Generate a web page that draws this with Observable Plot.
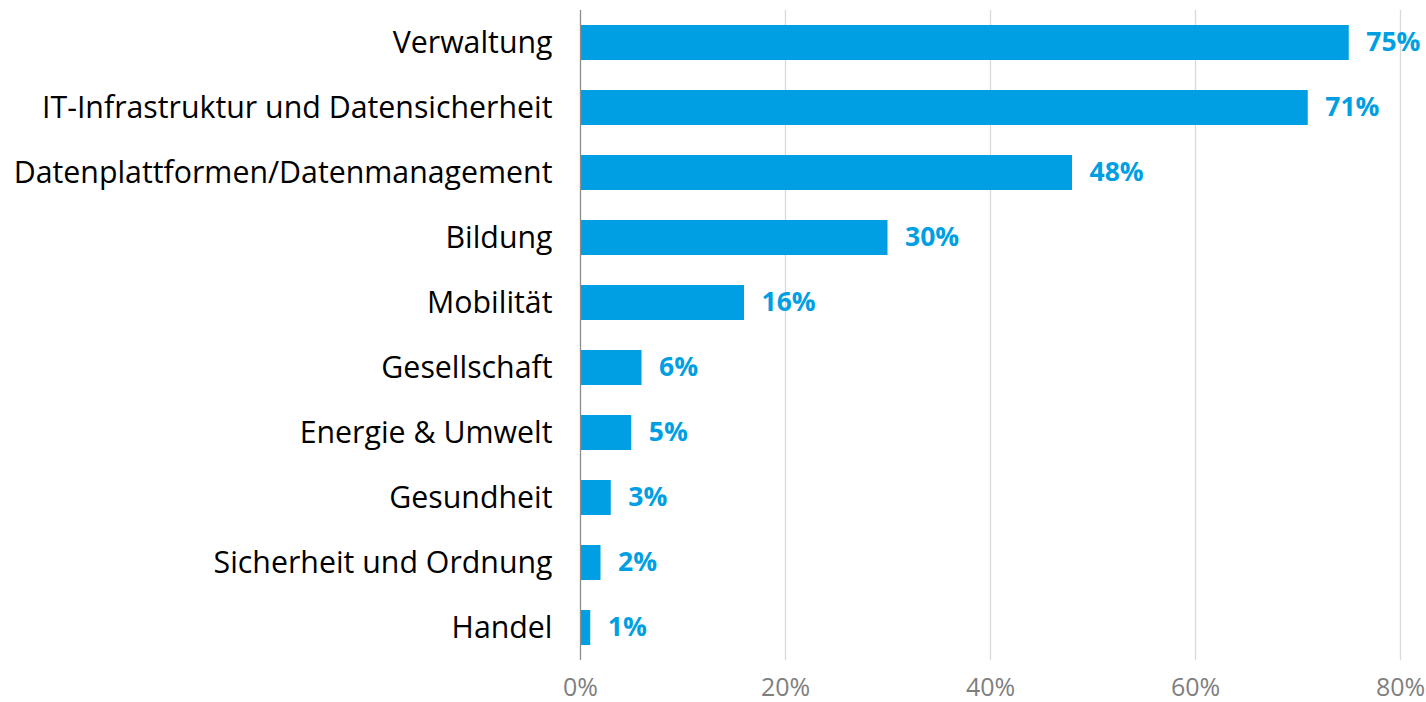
<!DOCTYPE html>
<html>
<head>
<meta charset="utf-8">
<script src="https://cdn.jsdelivr.net/npm/d3@7"></script>
<script src="https://cdn.jsdelivr.net/npm/@observablehq/plot@0.6"></script>
<style>
  html, body { margin: 0; padding: 0; background: #fff; }
  #chart svg { display: block; }
</style>
</head>
<body>
<div id="chart"></div>
<script>
const categories = ["Verwaltung", "IT-Infrastruktur und Datensicherheit", "Datenplattformen/Datenmanagement", "Bildung", "Mobilität", "Gesellschaft", "Energie & Umwelt", "Gesundheit", "Sicherheit und Ordnung", "Handel"];
const values = [75, 71, 48, 30, 16, 6, 5, 3, 2, 1];
const xTicks = [0, 20, 40, 60, 80];

const data = categories.map((c, i) => ({category: c, value: values[i]}));
const blue = "#009FE3";
const font = "'Open Sans', sans-serif";

const chart = Plot.plot({
  width: 1426,
  height: 702,
  marginLeft: 580,
  marginRight: 26,
  marginTop: 10,
  marginBottom: 42,
  style: {fontFamily: font, background: "#fff"},
  x: {domain: [0, 80], ticks: xTicks, tickFormat: d => d + "%", label: null},
  y: {domain: categories, paddingInner: 0.46, paddingOuter: 0.23, label: null},
  marks: [
    Plot.gridX(xTicks.filter(d => d > 0), {stroke: "#d9d9d9", strokeOpacity: 1, strokeWidth: 1.3}),
    Plot.barX(data, {x: "value", y: "category", fill: blue}),
    Plot.ruleX([0], {stroke: "#8c8c8c", strokeWidth: 1.3}),
    Plot.text(data, {x: "value", y: "category", text: d => d.value + "%", textAnchor: "start", dx: 17, fill: blue, fontSize: 26.5, fontWeight: "bold"}),
    Plot.axisX({ticks: xTicks, tickFormat: d => d + "%", tickSize: 0, tickPadding: 18, fontSize: 25, color: "#7f7f7f", label: null}),
    Plot.axisY({tickSize: 0, tickPadding: 28, fontSize: 30.3, color: "#000", label: null})
  ]
});
document.getElementById("chart").append(chart);
</script>
</body>
</html>
